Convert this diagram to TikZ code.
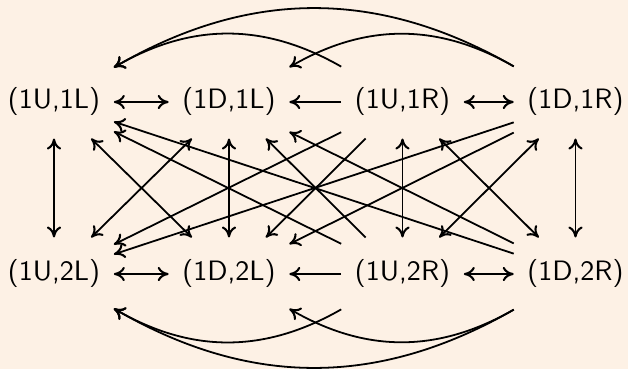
\documentclass[tikz,border=0pt]{standalone}
\usetikzlibrary{arrows.meta}
\definecolor{bgc}{RGB}{253,241,229}
\begin{document}
\begin{tikzpicture}[x=0.3636pt,y=-0.3636pt,
  cell/.style={font=\fontsize{10.2}{12}\selectfont\sffamily, text height=7.6pt, text depth=2.55pt, inner xsep=4.8pt, inner ysep=8pt, anchor=center},
  ar/.style={line width=0.65pt, >={Computer Modern Rightarrow[length=4pt,width=5.2pt,line width=0.75pt]}}]
\fill[bgc] (0,0) rectangle (628,369);
\useasboundingbox (0,0) rectangle (628,369);
\node[cell] (a11) at (54,102) {(1U,1L)};
\node[cell] (a12) at (229,102) {(1D,1L)};
\node[cell] (a13) at (402.5,102) {(1U,1R)};
\node[cell] (a14) at (575.5,102) {(1D,1R)};
\node[cell] (a21) at (54,274) {(1U,2L)};
\node[cell] (a22) at (229,274) {(1D,2L)};
\node[cell] (a23) at (402.5,274) {(1U,2R)};
\node[cell] (a24) at (575.5,274) {(1D,2R)};
% rows
\draw[ar,<->] (a11) -- (a12);
\draw[ar,->] (a13) -- (a12);
\draw[ar,<->] (a13) -- (a14);
\draw[ar,<->] (a21) -- (a22);
\draw[ar,->] (a23) -- (a22);
\draw[ar,<->] (a23) -- (a24);
% verticals
\draw[ar,<->] (a11) -- (a21);
\draw[ar,<->] (a12) -- (a22);
\draw[ar,<->] (a13) -- (a23);
\draw[ar,<->] (a14) -- (a24);
% crosses
\draw[ar,<->] (a11) -- (a22);
\draw[ar,<->] (a21) -- (a12);
\draw[ar,<->] (a13) -- (a24);
\draw[ar,<->] (a23) -- (a14);
% long diagonals
\draw[ar,->] (a14) -- (a21);
\draw[ar,->] (a14) -- (a22);
\draw[ar,->] (a13) -- (a21);
\draw[ar,->] (a13) -- (a22);
\draw[ar,->] (a24) -- (a11);
\draw[ar,->] (a24) -- (a12);
\draw[ar,->] (a23) -- (a11);
\draw[ar,->] (a23) -- (a12);
% curves
\draw[ar,->] (a13) to[bend right=30] (a11);
\draw[ar,->] (a14) to[bend right=30] (a12);
\draw[ar,->] (a14) to[bend right=30] (a11);
\draw[ar,->] (a23) to[bend left=30] (a21);
\draw[ar,->] (a24) to[bend left=30] (a22);
\draw[ar,->] (a24) to[bend left=30] (a21);
\end{tikzpicture}
\end{document}
